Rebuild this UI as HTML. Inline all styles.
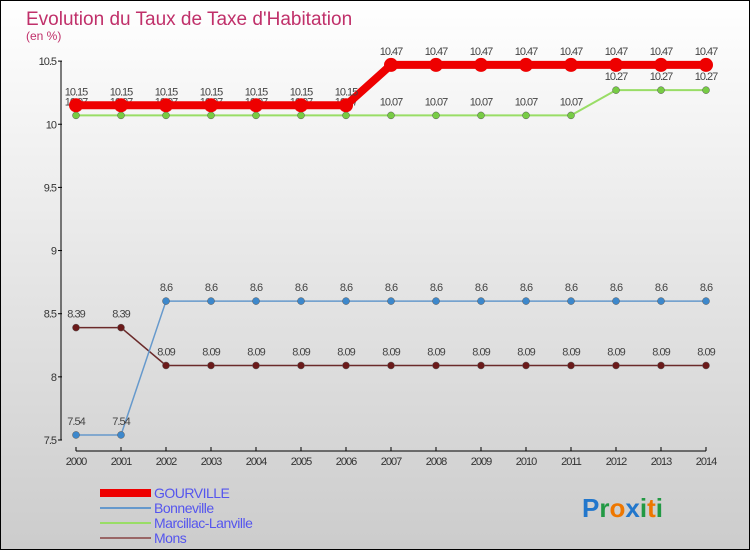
<!DOCTYPE html>
<html><head><meta charset="utf-8"><style>
body{margin:0}
#c{width:748px;height:548px;border:1px solid #000;background:linear-gradient(#fff,#ccc);position:relative;overflow:hidden;font-family:"Liberation Sans",sans-serif}
</style></head><body>
<div id="c">
<svg id="s" width="750" height="550" style="position:absolute;left:-1px;top:-1px">
<text x="26" y="25" font-size="19" fill="#c0306a">Evolution du Taux de Taxe d'Habitation</text>
<text x="26" y="40" font-size="12" fill="#c0306a">(en %)</text>
</svg>
</div>
<script>
const years=[2000,2001,2002,2003,2004,2005,2006,2007,2008,2009,2010,2011,2012,2013,2014];
const gourville=[10.15,10.15,10.15,10.15,10.15,10.15,10.15,10.47,10.47,10.47,10.47,10.47,10.47,10.47,10.47];
const bonneville=[7.54,7.54,8.6,8.6,8.6,8.6,8.6,8.6,8.6,8.6,8.6,8.6,8.6,8.6,8.6];
const marcillac=[10.07,10.07,10.07,10.07,10.07,10.07,10.07,10.07,10.07,10.07,10.07,10.07,10.27,10.27,10.27];
const mons=[8.39,8.39,8.09,8.09,8.09,8.09,8.09,8.09,8.09,8.09,8.09,8.09,8.09,8.09,8.09];
const yTicks=[7.5,8,8.5,9,9.5,10,10.5];
const names=["GOURVILLE","Bonneville","Marcillac-Lanville","Mons"];
const svg=document.getElementById('s');const NS='http://www.w3.org/2000/svg';
const X=i=>76+i*45, Y=v=>440-(v-7.5)*126.3;
function el(t,a,p){const e=document.createElementNS(NS,t);for(const k in a)e.setAttribute(k,a[k]);(p||svg).appendChild(e);return e;}
const ax=el('g',{});


el('line',{x1:61,y1:Y(10.5),x2:61,y2:Y(7.5),stroke:'#000'},ax);
el('line',{x1:76,y1:451,x2:706,y2:451,stroke:'#000'},ax);
yTicks.forEach(v=>{el('line',{x1:58,y1:Y(v),x2:62,y2:Y(v),stroke:'#000'},ax);
const t=el('text',{x:56,y:Y(v)+4,'font-size':11,'text-anchor':'end',fill:'#333','letter-spacing':'-1'},ax);t.textContent=v;

});
years.forEach((y,i)=>{el('line',{x1:X(i),y1:447,x2:X(i),y2:451,stroke:'#000'},ax);
const t=el('text',{x:X(i),y:465,'font-size':11,'text-anchor':'middle',fill:'#333','letter-spacing':'-1'},ax);t.textContent=y;

});
const series=[[marcillac,'#99dd66','#77cc44',2,3.5,'marcillac'],[mons,'#6b2a2a','#6b1a1a',1.5,3.5,'mons'],[bonneville,'#6699cc','#3d88cc',1.5,3.5,'bonneville'],[gourville,'#ee0000','#ee0000',8,7,'gourville']];
series.forEach(([d,lc,pc,w,r,n])=>{const g=el('g',{});


el('polyline',{points:d.map((v,i)=>X(i)+','+Y(v)).join(' '),fill:'none',stroke:lc,'stroke-width':w},g);
d.forEach((v,i)=>{const c=el('circle',{cx:X(i),cy:Y(v),r:r,fill:pc,stroke:n=='gourville'?'none':'#555','stroke-width':0.5},g);


const t=el('text',{x:X(i),y:Y(v)-10,'font-size':11,'text-anchor':'middle',fill:'#444','letter-spacing':'-1'},g);t.textContent=v;

});});
const cols=['#ee0000','#6699cc','#99dd66','#996666'],ws=[8,2,2,2];
names.forEach((n,i)=>{const g=el('g',{});


const yy=493+i*15;
el('line',{x1:100,y1:yy,x2:151,y2:yy,stroke:cols[i],'stroke-width':ws[i]},g);
const t=el('text',{x:154,y:yy+5,'font-size':14,fill:'#5555ee','letter-spacing':'-0.5'},g);t.textContent=n;});
const lg=el('text',{x:582,y:517,'font-size':26,'font-weight':'bold'});


[['P','#2277cc'],['r','#229944'],['o','#ee7700'],['x','#2277cc'],['i','#229944'],['t','#ee7700'],['i','#229944']].forEach(([c,f])=>{const s=el('tspan',{fill:f},lg);s.textContent=c;});
</script>
</body></html>
